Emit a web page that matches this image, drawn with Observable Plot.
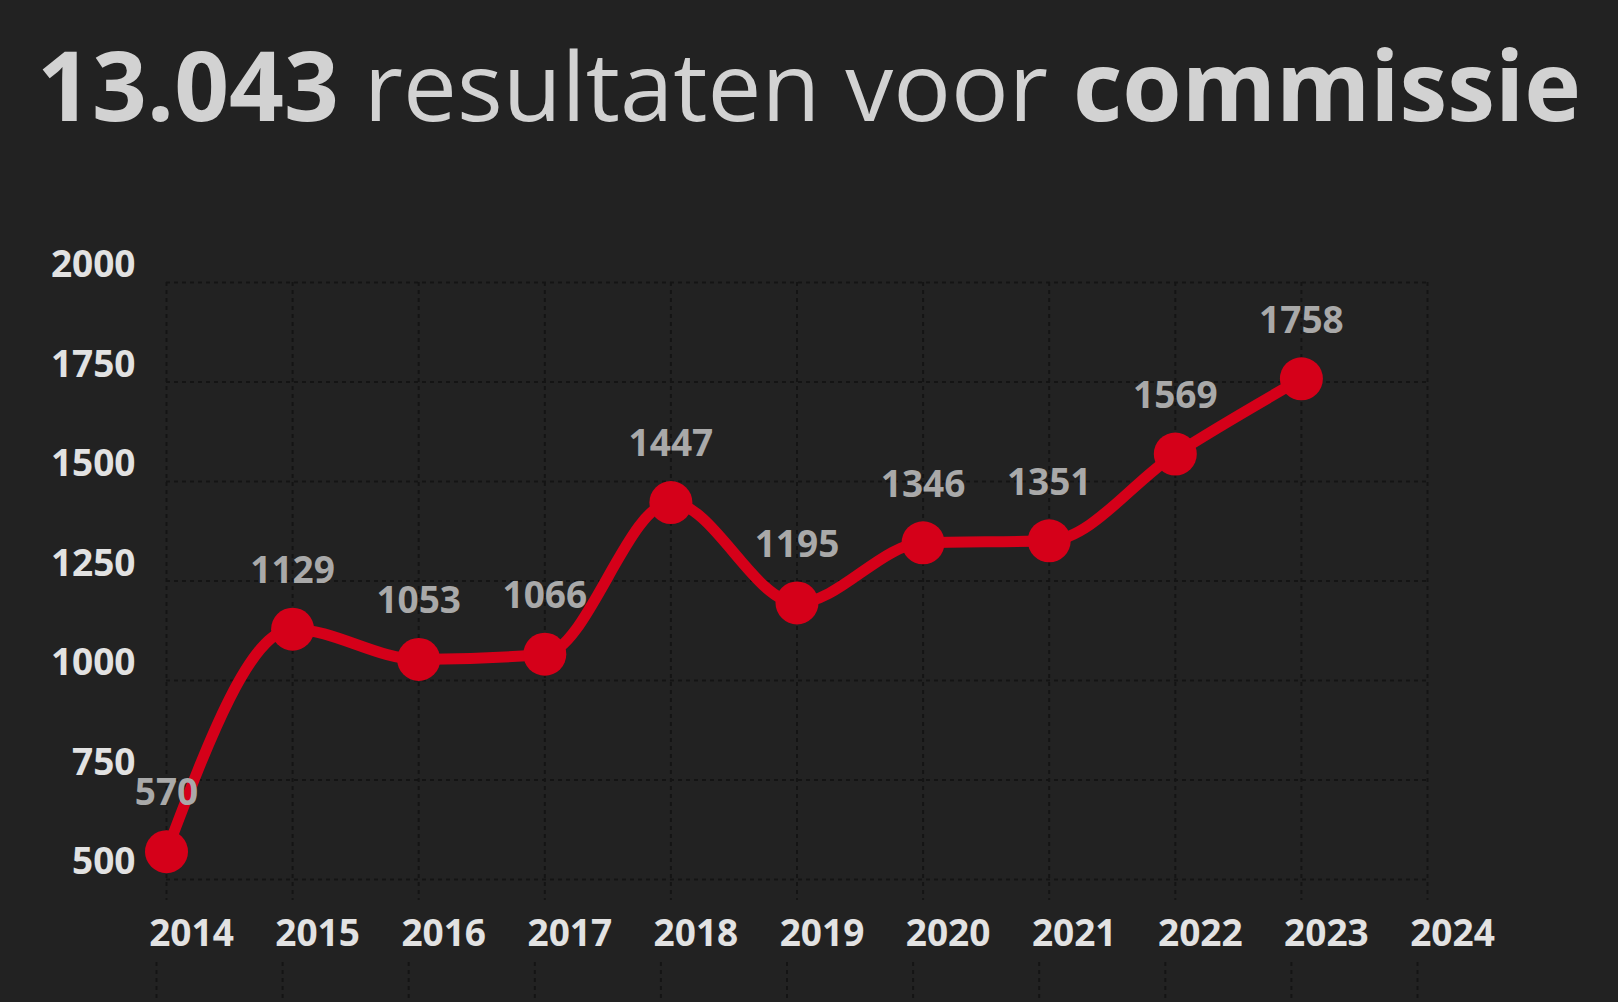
<!DOCTYPE html>
<html>
<head>
<meta charset="utf-8">
<script src="https://cdn.jsdelivr.net/npm/d3@7"></script>
<script src="https://cdn.jsdelivr.net/npm/@observablehq/plot@0.6"></script>
<style>
  html, body { margin: 0; padding: 0; background: #222222; width: 1618px; height: 1002px; overflow: hidden; }
  #title { height: 160px; box-sizing: border-box; padding-left: 37px; padding-top: 36px;
           font-family: "Open Sans", sans-serif; font-size: 96px; line-height: 96px; color: #d2d2d2;
           white-space: nowrap; font-weight: 400; }
  #title b { font-weight: 700; }
  #chart svg { display: block; }
</style>
</head>
<body>
<div id="title"><b>13.043</b> resultaten voor <b>commissie</b></div>
<div id="chart"></div>
<script>
const years = [2014, 2015, 2016, 2017, 2018, 2019, 2020, 2021, 2022, 2023];
const values = [570, 1129, 1053, 1066, 1447, 1195, 1346, 1351, 1569, 1758];
const xTicks = [2014, 2015, 2016, 2017, 2018, 2019, 2020, 2021, 2022, 2023, 2024];
const yTicks = [500, 750, 1000, 1250, 1500, 1750, 2000];

const data = years.map((y, i) => ({year: y, value: values[i]}));
const red = "#d50019";
const gridColor = "#141414";

const chart = Plot.plot({
  width: 1618,
  height: 842,
  marginTop: 122,
  marginBottom: 123,
  marginLeft: 166,
  marginRight: 191,
  style: {background: "#222222", fontFamily: "Open Sans, sans-serif", overflow: "visible"},
  x: {domain: [2014, 2024], label: null},
  y: {domain: [500, 2000], label: null},
  marks: [
    Plot.ruleY(yTicks, {y: d => d, stroke: gridColor, strokeWidth: 2, strokeDasharray: "4,4"}),
    Plot.ruleX(xTicks, {x: d => d, stroke: gridColor, strokeWidth: 2, strokeDasharray: "4,4", insetBottom: -21}),
    Plot.ruleX(xTicks, {x: d => d, stroke: gridColor, strokeWidth: 2, strokeDasharray: "4,4", dx: -10, dy: 123, insetTop: 557}),
    Plot.axisY({ticks: yTicks, tickSize: 0, tickPadding: 31, dy: -17, tickFormat: "d", fill: "#e2e2e2", fontSize: 37, fontWeight: 700, label: null}),
    Plot.axisX({ticks: xTicks, tickSize: 0, tickPadding: 40, dx: 25, tickFormat: "d", fill: "#e2e2e2", fontSize: 37, fontWeight: 700, label: null}),
    Plot.line(data, {x: "year", y: "value", curve: "monotone-x", stroke: red, strokeWidth: 11}),
    Plot.dot(data, {x: "year", y: "value", r: 21.5, fill: red}),
    Plot.text(data, {x: "year", y: "value", text: d => String(d.value), dy: -58, fill: "#a9a9a9", fontSize: 37, fontWeight: 700})
  ]
});
document.getElementById("chart").appendChild(chart);
</script>
</body>
</html>
